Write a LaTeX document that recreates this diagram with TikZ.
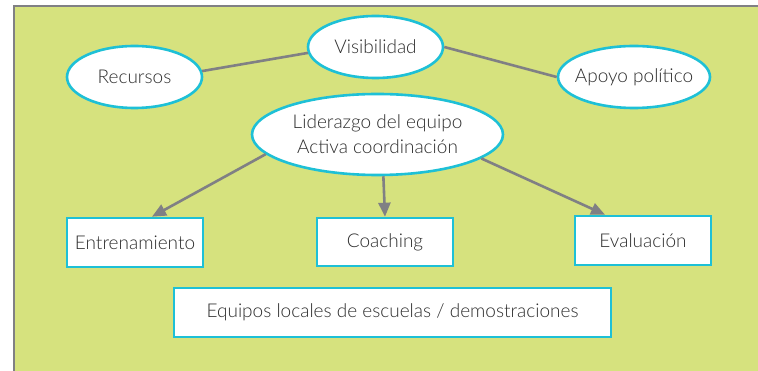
\documentclass[tikz,border=0pt]{standalone}
\usepackage{fontspec}
\setmainfont{Lato Light}
\usetikzlibrary{shapes.geometric,arrows.meta}
\definecolor{bggreen}{HTML}{D6E27E}
\definecolor{cyanb}{HTML}{1EC0D6}
\definecolor{linegray}{HTML}{808084}
\definecolor{txt}{HTML}{2E2E2E}
\tikzset{
  oval/.style={ellipse,draw=cyanb,line width=2.6pt,fill=white,inner sep=-12pt,text=txt,font=\fontsize{19}{25}\selectfont,align=center},
  box/.style={rectangle,draw=cyanb,line width=2.6pt,fill=white,inner sep=0pt,text=txt,font=\fontsize{19}{25}\selectfont},
  link/.style={draw=linegray,line width=2.6pt},
  arr/.style={link,-{Triangle[length=14pt,width=12pt]}}
}
\begin{document}
\begin{tikzpicture}[x=1pt,y=-1pt]
\useasboundingbox (0,0) rectangle (758,371);
\fill[bggreen] (14,6) rectangle (758,371);
\draw[linegray,line width=1.6pt] (14,371) -- (14,6) -- (758,6);
\node[oval,minimum width=135pt,minimum height=62pt] (vis) at (375.5,47) {Visibilidad};
\node[oval,minimum width=135pt,minimum height=62pt] (rec) at (134.5,77) {Recursos};
\node[oval,minimum width=152pt,minimum height=62pt] (apo) at (634,77) {Apoyo político};
\node[oval,minimum width=251pt,minimum height=81pt] (lid) at (377.5,134.5) {Liderazgo del equipo\\Activa coordinación};
\node[box,minimum width=136pt,minimum height=49pt] (ent) at (135,242.5) {Entrenamiento};
\node[box,minimum width=136pt,minimum height=48pt] (cch) at (385,242) {Coaching};
\node[box,minimum width=136pt,minimum height=49pt] (eva) at (643,240.5) {Evaluación};
\node[box,minimum width=437pt,minimum height=49pt] (equ) at (392.5,312.5) {Equipos locales de escuelas / demostraciones};
\draw[link] (rec.5) -- (vis.185);
\draw[link] (vis.east) -- (apo.west);
\draw[arr] (lid.190) -- ([xshift=17pt]ent.north);
\draw[arr] (lid.-82) -- (cch.north);
\draw[arr] (lid.-13) -- ([xshift=-38pt]eva.north);
\end{tikzpicture}
\end{document}
